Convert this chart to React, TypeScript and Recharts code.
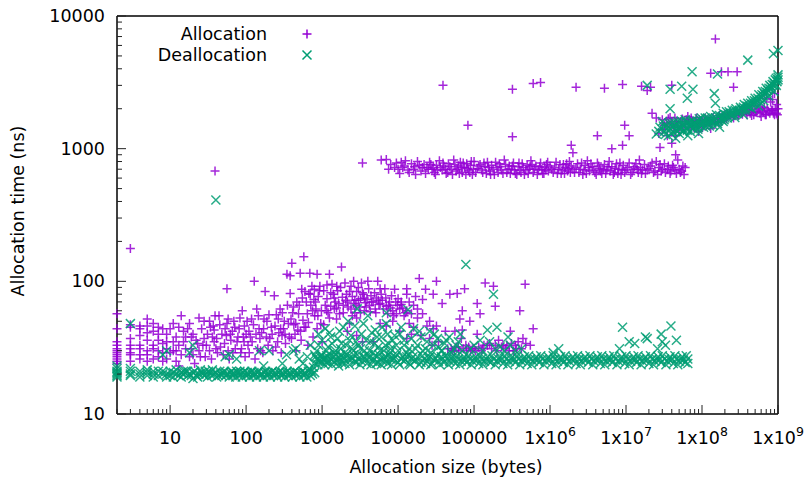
import React from "react";
import { ScatterChart, Scatter, XAxis, YAxis } from "recharts";

// [size in bytes, time in ns]
type Pt = [number, number];

const allocLow: Pt[] = [
  [2, 57], [2, 44], [2, 35], [2, 33], [2, 31], [2, 30], [2, 29], [2, 28], [2, 27], [2, 26], [2, 25], [2, 24],
  [3, 177], [3, 47], [3, 45], [3, 33], [3, 31], [3, 29], [3, 28], [3, 25],
  [4, 44], [4, 46], [4, 31], [4, 28], [4, 26], [4, 33],
  [5, 52], [5, 46], [5, 28], [5, 25], [5, 30], [5, 36],
  [6, 42], [6, 31], [6, 33], [6, 26], [7, 40], [7, 27], [7, 30], [7, 36],
  [8, 44], [8, 25], [8, 29], [8, 34], [9, 26], [9, 31], [9, 40],
  [10, 29], [11, 48], [11, 35], [11, 30], [12, 25], [12, 38], [13, 23], [13, 33], [14, 55], [14, 28],
  [15, 42], [15, 35], [16, 31], [17, 44], [18, 27], [19, 31], [19, 38],
  [20, 28], [21, 24], [22, 36], [24, 53], [24, 30], [26, 44], [27, 33], [28, 37], [29, 27], [31, 40],
  [33, 30], [33, 50], [35, 26], [37, 46], [38, 43], [38, 35], [39, 55], [41, 37], [42, 29], [44, 55], [46, 32], [48, 40],
  [52, 34], [55, 39], [56, 48], [56, 88], [58, 30], [60, 26], [63, 36], [66, 42], [69, 50], [72, 31], [76, 35],
  [81, 44], [85, 29], [89, 60], [92, 38], [94, 35], [97, 27],
  [103, 50], [106, 33], [109, 42], [114, 38], [120, 35], [125, 47], [128, 100], [131, 26], [138, 62], [142, 31],
  [148, 44], [152, 37], [160, 41], [166, 29], [172, 52], [178, 84], [188, 50], [195, 33],
  [205, 37], [215, 45], [225, 30], [235, 78], [240, 46], [250, 56], [260, 35], [270, 41], [280, 62], [290, 29],
  [297, 39], [310, 44], [318, 50], [330, 34], [345, 113], [360, 48], [380, 110], [380, 81], [395, 37], [400, 137],
  [410, 58], [425, 47], [440, 40], [455, 30], [465, 70], [480, 43], [490, 57],
  [515, 115], [530, 36], [540, 87], [560, 51], [575, 153], [595, 84], [610, 45], [640, 57], [650, 33], [670, 81],
  [690, 115], [710, 66], [735, 92], [760, 38], [780, 73], [800, 55], [830, 62], [860, 44], [860, 113], [890, 77],
  [935, 92], [960, 48],
  [1000, 35], [1050, 47], [1100, 66], [1160, 74], [1160, 94], [1200, 58], [1250, 113], [1250, 53], [1300, 82],
  [1400, 80], [1450, 62], [1500, 70], [1550, 63], [1560, 92], [1550, 52], [1600, 85], [1700, 57], [1800, 128],
  [1850, 76], [1900, 66], [2000, 97], [2050, 72], [2150, 70], [2150, 42], [2300, 84], [2300, 48], [2400, 62],
  [2500, 77], [2600, 100], [2600, 68], [2700, 58], [2850, 84], [2850, 53], [2850, 39], [3000, 72], [3100, 64],
  [3200, 74], [3300, 97], [3400, 35], [3500, 80], [3600, 60], [3700, 69], [3900, 73], [4000, 100], [4200, 66],
  [4400, 78], [4700, 70], [4700, 35], [5000, 62], [5200, 75], [5400, 100], [5600, 67], [5800, 88], [5800, 68],
  [5800, 48], [6200, 72], [6700, 88], [7000, 65], [7000, 46], [7300, 57], [7700, 70], [8000, 63], [8500, 60],
  [8500, 50], [9000, 87], [9500, 57], [9800, 66],
  [10500, 62], [10500, 42], [11000, 67], [11000, 70], [12000, 55], [13000, 88], [13000, 60], [13000, 37],
  [13000, 80], [14000, 48], [15000, 40], [15000, 57], [16000, 45], [17000, 77], [18000, 53], [19000, 105],
  [20000, 39], [21000, 57], [21000, 73], [23000, 87], [24000, 46], [26000, 50], [26000, 37], [28000, 33],
  [29000, 80], [29000, 44], [32000, 100], [32000, 46], [34000, 35], [38000, 68], [42000, 42], [48000, 80],
  [50000, 31], [55000, 30], [56000, 42], [60000, 81], [62000, 32], [65000, 52], [68000, 37], [70000, 60],
  [70000, 43], [72000, 31], [75000, 88], [80000, 30], [85000, 32], [88000, 50], [95000, 31],
  [105000, 30], [110000, 68], [110000, 40], [115000, 32], [120000, 57], [130000, 31], [140000, 97], [150000, 33],
  [160000, 34], [180000, 92], [190000, 65], [190000, 33], [210000, 36], [240000, 33], [270000, 33], [300000, 42],
  [310000, 34], [330000, 30], [360000, 31], [380000, 35], [400000, 60], [440000, 37], [470000, 95], [600000, 44],
];

const allocLowFill: Pt[] = [
  [1050, 85], [1150, 60], [1300, 65], [1350, 95], [1450, 75], [1650, 68], [1750, 90], [1900, 58], [2100, 80],
  [2200, 64], [2400, 92], [2500, 55], [2700, 72], [2800, 66], [3000, 90], [3200, 58], [3400, 82], [3600, 75],
  [3800, 64], [4100, 88], [4300, 59], [4500, 70], [4900, 82], [5100, 58], [5500, 72], [6000, 80], [6400, 62],
  [6900, 75], [7500, 66], [8200, 78], [8800, 55], [9300, 70], [10000, 74], [11500, 63], [12500, 58], [14000, 70],
  [16000, 66], [18000, 62],
  [3, 37], [4, 39], [5, 41], [6, 48], [7, 45], [9, 35], [10, 44], [12, 30], [13, 45], [16, 38], [18, 48], [20, 40],
  [23, 34], [25, 27], [28, 50], [30, 33], [34, 45], [36, 38], [40, 31], [45, 47], [50, 28], [53, 44], [58, 52],
  [62, 40], [67, 29], [71, 45], [78, 38], [83, 53], [87, 31], [95, 46], [100, 40], [110, 29], [118, 52], [135, 40],
  [145, 55], [155, 30], [170, 44], [185, 38], [200, 56], [220, 40], [245, 32], [265, 52], [285, 44], [300, 58],
  [325, 40], [350, 66], [370, 38], [390, 52], [420, 64], [450, 48], [500, 66], [520, 42], [550, 75], [580, 45],
  [620, 70], [660, 49], [700, 80], [750, 60], [790, 87], [820, 70], [880, 55], [920, 85], [980, 60],
  [45000, 31], [52000, 30], [58000, 32], [63000, 30], [78000, 33], [90000, 30], [100000, 31], [125000, 30],
  [135000, 33], [170000, 31], [200000, 30], [230000, 32], [260000, 31], [290000, 30], [350000, 33], [420000, 31],
  [480000, 34], [550000, 33],
];

const allocMid: Pt[] = [
  [3400, 780], [6000, 820], [7000, 830], [8000, 760], [9000, 720], [10000, 700], [11000, 790], [12000, 740],
  [13500, 690], [15000, 770], [16500, 730], [18000, 800], [20000, 680], [22000, 760], [24000, 720], [26000, 790],
  [28000, 700], [30000, 660], [32000, 750], [35000, 810], [38000, 690], [40000, 740], [43000, 650], [46000, 770],
  [50000, 700], [54000, 820], [58000, 680], [62000, 740], [66000, 790], [70000, 660], [75000, 720], [80000, 770],
  [85000, 690], [90000, 750], [95000, 640], [100000, 800], [110000, 710], [120000, 760], [130000, 660],
  [140000, 730], [150000, 790], [160000, 680], [170000, 750], [185000, 640], [200000, 720], [215000, 770],
  [230000, 690], [250000, 820], [270000, 660], [290000, 740], [310000, 700], [330000, 780], [350000, 650],
  [380000, 730], [400000, 690], [430000, 770], [460000, 640], [500000, 750], [530000, 700], [560000, 810],
  [600000, 660], [650000, 740], [700000, 690], [750000, 780], [800000, 650], [850000, 720], [900000, 760],
  [950000, 680], [1000000, 740], [1100000, 660], [1200000, 790], [1300000, 700], [1400000, 650], [1500000, 760],
  [1600000, 720], [1700000, 680], [1800000, 800], [1900000, 740], [2100000, 660], [2300000, 770], [2500000, 700],
  [2700000, 640], [2900000, 750], [3100000, 810], [3300000, 680], [3600000, 730], [3900000, 660], [4200000, 780],
  [4500000, 710], [4800000, 650], [5200000, 760], [5600000, 690], [6000000, 800], [6500000, 730], [7000000, 660],
  [7500000, 770], [8000000, 700], [8600000, 640], [9200000, 750], [10000000, 690], [11000000, 780],
  [12000000, 660], [13000000, 730], [14000000, 700], [15000000, 820], [16000000, 650], [17500000, 760],
  [19000000, 690], [21000000, 740], [23000000, 660], [25000000, 800], [27000000, 720], [29000000, 680],
  [32000000, 770], [35000000, 700], [38000000, 650], [41000000, 750], [44000000, 690], [48000000, 820],
  [52000000, 660], [56000000, 740],
  [83000, 1500], [320000, 1230], [1900000, 1060], [2000000, 930], [4200000, 1250], [6500000, 1000],
  [9000000, 1060], [9600000, 1500], [11000000, 1250], [22000000, 1850], [25000000, 1700], [30000000, 1400],
  [35000000, 1250], [40000000, 1100], [28000000, 1020], [45000000, 900], [27000000, 1300], [45000000, 1250],
];

const allocMidFill: Pt[] = [
  [7500, 700], [9500, 780], [10500, 650], [11500, 720], [12500, 810], [14000, 660], [16000, 700], [17000, 640],
  [19000, 750], [21000, 720], [23000, 650], [25000, 700], [27000, 760], [29000, 720], [31000, 640], [33000, 690],
  [36000, 720], [39000, 780], [42000, 700], [45000, 660], [48000, 730], [52000, 640], [56000, 760], [60000, 700],
  [64000, 650], [68000, 720], [72000, 780], [78000, 640], [82000, 710], [88000, 660], [92000, 800], [98000, 700],
  [105000, 660], [115000, 740], [125000, 690], [135000, 780], [145000, 650], [155000, 720], [165000, 640],
  [178000, 700], [192000, 790], [207000, 660], [222000, 730], [240000, 650], [260000, 760], [280000, 700],
  [300000, 650], [320000, 740], [340000, 690], [365000, 640], [390000, 780], [415000, 660], [445000, 720],
  [480000, 690], [515000, 650], [545000, 730], [580000, 760], [620000, 700], [680000, 640], [730000, 730],
  [780000, 700], [830000, 650], [880000, 690], [930000, 790], [1050000, 700], [1150000, 720], [1250000, 650],
  [1350000, 760], [1450000, 690], [1550000, 650], [1650000, 770], [1750000, 710], [1850000, 660], [2000000, 700],
  [2200000, 720], [2400000, 660], [2600000, 780], [2800000, 690], [3000000, 650], [3200000, 720], [3450000, 770],
  [3750000, 690], [4050000, 640], [4350000, 740], [4650000, 680], [5000000, 700], [5400000, 650], [5800000, 730],
  [6200000, 680], [6800000, 640], [7200000, 710], [7800000, 650], [8300000, 780], [8900000, 690], [9600000, 660],
  [10500000, 720], [11500000, 640], [12500000, 700], [13500000, 770], [14500000, 660], [15500000, 720],
  [16500000, 690], [18000000, 650], [20000000, 710], [22000000, 780], [24000000, 680], [26000000, 640],
  [28000000, 760], [30000000, 700], [33000000, 660], [36000000, 740], [39000000, 680], [42000000, 720],
  [46000000, 650], [50000000, 700], [54000000, 680], [58000000, 640], [60000000, 720],
];

const allocHigh: Pt[] = [
  [30000000, 1650], [34000000, 1560], [38000000, 1720], [42000000, 1450], [46000000, 1600], [50000000, 1380],
  [55000000, 1670], [60000000, 1520], [65000000, 1750], [70000000, 1400], [75000000, 1600], [80000000, 1500],
  [85000000, 1700], [90000000, 1350], [95000000, 1550], [100000000, 1620], [105000000, 1480], [110000000, 1700],
  [115000000, 1580], [120000000, 1650], [130000000, 1420], [140000000, 1720], [150000000, 1560], [160000000, 1650],
  [170000000, 1780], [180000000, 1600], [190000000, 1700], [200000000, 1820], [210000000, 1680], [220000000, 1750],
  [240000000, 1850], [260000000, 1700], [280000000, 1900], [300000000, 1780], [320000000, 1950], [340000000, 1820],
  [360000000, 2050], [380000000, 1880], [400000000, 1980], [430000000, 1850], [460000000, 2100], [500000000, 1900],
  [540000000, 2000], [580000000, 1850], [620000000, 1950], [660000000, 2050], [700000000, 1800], [750000000, 1900],
  [800000000, 2250], [850000000, 1950], [900000000, 1800], [950000000, 1850], [1000000000, 2000],
  [700000000, 2400], [900000000, 2600], [600000000, 1750], [450000000, 1780],
  [32000000, 1500], [36000000, 1680], [40000000, 1550], [44000000, 1700], [48000000, 1480], [52000000, 1600],
  [57000000, 1450], [62000000, 1650], [67000000, 1550], [72000000, 1700], [78000000, 1450], [82000000, 1620],
  [88000000, 1550], [92000000, 1650], [98000000, 1480], [108000000, 1580], [125000000, 1600], [135000000, 1550],
  [145000000, 1650], [165000000, 1580], [185000000, 1720], [230000000, 1800], [270000000, 1780], [310000000, 1850],
  [350000000, 1900], [390000000, 1800], [420000000, 1950], [480000000, 1800], [520000000, 1880], [560000000, 2100],
  [640000000, 1900], [680000000, 1800], [720000000, 2000], [780000000, 1850], [820000000, 1950], [870000000, 1850],
  [920000000, 2000], [980000000, 1800], [960000000, 2150], [850000000, 2350],
];

const allocOutliers: Pt[] = [
  [39, 680], [39000, 3000], [320000, 2800], [600000, 3100], [750000, 3150], [2200000, 2900], [5200000, 2850],
  [9000000, 3050], [16000000, 2950], [19000000, 2750], [21000000, 2900], [40000000, 3000],
  [150000000, 6700], [130000000, 3700], [180000000, 3800], [220000000, 3800], [290000000, 3800], [260000000, 2900],
];

const deallocLow: Pt[] = [
  [2, 19], [2, 20], [2, 21], [2, 22], [2, 19.5], [2, 20.5], [2, 23],
  [3, 20], [3, 21], [3, 19.5], [4, 20], [4, 21], [5, 19.5], [5, 20.5], [6, 20], [6, 21], [7, 19.5], [8, 20],
  [8, 21], [9, 20], [10, 19.5], [11, 20.5], [12, 20], [13, 19.5], [14, 20.5], [15, 20], [16, 21], [17, 19.5],
  [18, 20], [20, 20.5], [20, 18.5], [22, 19.5], [24, 20], [26, 20.5], [28, 19.5], [30, 20], [32, 21], [35, 19.5],
  [38, 20], [40, 20.5], [43, 19.5], [46, 20], [50, 20.5], [54, 19.5], [58, 20], [62, 20.5], [66, 19.5], [70, 20],
  [75, 21], [80, 19.5], [86, 20], [92, 20.5], [100, 19.5], [107, 20], [115, 20.5], [123, 19.5], [132, 20],
  [142, 20.5], [152, 19.5], [163, 20], [175, 20.5], [188, 19.5], [200, 20], [215, 20.5], [230, 19.5], [250, 20],
  [270, 20.5], [290, 19.5], [310, 20], [335, 20.5], [360, 19.5], [390, 20], [420, 20.5], [450, 19.5], [490, 20],
  [530, 20.5], [570, 19.5], [610, 20], [660, 21], [700, 19.5], [750, 20], [800, 20.5],
  [3, 22], [4, 19], [5, 21.5], [6, 19], [7, 21], [9, 19], [10, 21], [11, 19], [12, 21.5], [14, 19], [15, 21],
  [17, 21], [19, 19.5], [21, 21], [23, 19], [25, 21.5], [27, 20], [29, 21], [31, 19], [34, 20.5], [36, 21.5],
  [41, 19], [45, 21], [48, 19.5], [52, 21], [56, 20], [60, 19], [64, 21], [68, 20.5], [73, 19], [78, 20.5],
  [83, 21], [89, 19], [96, 21], [104, 20.5], [111, 19], [119, 21], [127, 20.5], [137, 19], [147, 21], [157, 20],
  [169, 19], [181, 21], [194, 20.5], [208, 19], [222, 21], [240, 20.5], [260, 19], [280, 21], [300, 20.5],
  [322, 19], [347, 21], [375, 20.5], [405, 19], [435, 21], [470, 20.5], [510, 19], [550, 21], [590, 20.5],
  [630, 19], [680, 22], [720, 21], [770, 22.5],
  [3, 48], [8, 28], [9, 30], [18, 29], [20, 33], [53, 27], [60, 28], [75, 26], [150, 30], [170, 23], [200, 30],
  [300, 24], [340, 28], [420, 30], [450, 31], [500, 26], [560, 24], [640, 27], [700, 33], [800, 28], [900, 40],
  [850, 30], [40, 410],
];

const deallocMid: Pt[] = [
  [800, 24], [850, 26], [900, 25], [950, 27], [1000, 24.5], [1050, 26], [1100, 25], [1150, 27.5], [1200, 24],
  [1300, 26], [1400, 25], [1500, 28], [1600, 24.5], [1700, 26.5], [1800, 25], [1900, 27], [2000, 24], [2200, 26],
  [2400, 25.5], [2600, 28], [2800, 24.5], [3000, 26], [3300, 25], [3600, 27], [3900, 24], [4200, 26.5], [4600, 25],
  [5000, 27.5], [5400, 24.5], [5800, 26], [6300, 25], [6800, 27], [7300, 24], [7900, 26], [8500, 25.5], [9200, 27],
  [10000, 24.5], [11000, 26], [12000, 25], [13000, 27], [14000, 24], [15000, 26], [16500, 25], [18000, 27],
  [20000, 24.5], [22000, 26], [24000, 25], [26000, 27], [28000, 24], [31000, 26], [34000, 25], [37000, 27],
  [40000, 24.5], [44000, 26], [48000, 25], [52000, 27], [57000, 24], [62000, 26], [68000, 25], [74000, 27],
  [80000, 24.5], [88000, 26], [96000, 25], [105000, 27], [115000, 24], [125000, 26], [137000, 25], [150000, 27],
  [165000, 24.5], [180000, 26], [200000, 25], [220000, 27], [240000, 24], [265000, 26], [290000, 25], [320000, 27],
  [350000, 24.5], [385000, 26], [420000, 25], [460000, 27], [500000, 24], [550000, 26], [600000, 25], [660000, 27],
  [720000, 24.5], [790000, 26], [870000, 25], [950000, 27], [1050000, 24], [1150000, 26], [1250000, 25],
  [1380000, 27], [1500000, 24.5], [1650000, 26], [1800000, 25], [2000000, 27], [2200000, 24], [2400000, 26],
  [2600000, 25], [2900000, 27], [3200000, 24.5], [3500000, 26], [3800000, 25], [4200000, 27], [4600000, 24],
  [5000000, 26], [5500000, 25], [6000000, 27], [6600000, 24.5], [7200000, 26], [8000000, 25], [8800000, 27],
  [9600000, 24], [10500000, 26], [11500000, 25], [12600000, 27], [13800000, 24.5], [15000000, 26], [16500000, 25],
  [18000000, 27], [20000000, 24], [22000000, 26], [24000000, 25], [26500000, 27], [29000000, 24.5], [32000000, 26],
  [35000000, 25], [38000000, 27], [42000000, 24], [46000000, 26], [50000000, 25], [55000000, 27], [60000000, 24.5],
  [65000000, 26],
];

const deallocMidFill: Pt[] = [
  [820, 27], [880, 23.5], [930, 25.5], [980, 28], [1020, 26], [1080, 23.5], [1130, 26.5], [1180, 25], [1250, 28],
  [1350, 23.5], [1450, 27], [1550, 25.5], [1650, 23], [1750, 28], [1850, 24], [1950, 26], [2100, 28], [2300, 23.5],
  [2500, 26.5], [2700, 25], [2900, 28], [3150, 23.5], [3450, 27], [3750, 25.5], [4050, 28], [4400, 23.5],
  [4800, 26], [5200, 24], [5600, 28], [6000, 23.5], [6500, 26.5], [7000, 25], [7600, 28], [8200, 23.5], [8800, 26],
  [9600, 28], [10500, 23.5], [11500, 27], [12500, 25.5], [13500, 28], [14500, 23.5], [15700, 27], [17200, 25.5],
  [19000, 23.5], [21000, 27.5], [23000, 24], [25000, 26.5], [27000, 23.5], [29500, 25.5], [32500, 27.5],
  [35500, 23.5], [38500, 26], [42000, 27.5], [46000, 23.5], [50000, 26.5], [54000, 25], [60000, 27.5],
  [65000, 23.5], [71000, 26], [77000, 25.5], [84000, 27.5], [92000, 23.5], [100000, 26], [110000, 25.5],
  [120000, 27.5], [131000, 23.5], [143000, 26], [157000, 25], [172000, 27.5], [190000, 23.5], [210000, 26],
  [230000, 25.5], [252000, 27.5], [277000, 23.5], [305000, 26], [335000, 25.5], [367000, 27.5], [400000, 23.5],
  [440000, 26], [480000, 25.5], [525000, 27.5], [575000, 23.5], [630000, 26], [690000, 25.5], [755000, 27.5],
  [830000, 23.5], [910000, 26], [1000000, 25.5], [1100000, 27.5], [1200000, 23.5], [1320000, 26], [1450000, 25.5],
  [1580000, 27.5], [1720000, 23.5], [1900000, 26], [2100000, 25.5], [2300000, 27.5], [2500000, 23.5],
  [2750000, 26], [3000000, 25.5], [3350000, 27.5], [3650000, 23.5], [4000000, 26], [4400000, 25.5],
  [4800000, 27.5], [5250000, 23.5], [5750000, 26], [6300000, 25.5], [6900000, 27.5], [7600000, 23.5],
  [8400000, 26], [9200000, 25.5], [10000000, 27.5], [11000000, 23.5], [12000000, 26], [13200000, 25.5],
  [14400000, 27.5], [15800000, 23.5], [17200000, 26], [19000000, 25.5], [21000000, 27.5], [23000000, 23.5],
  [25000000, 26], [27500000, 25.5], [30000000, 27.5], [33500000, 23.5], [36500000, 26], [40000000, 25.5],
  [44000000, 27.5], [48000000, 23.5], [52000000, 26], [57000000, 25.5], [62000000, 27.5], [65000000, 24],
];

const deallocScatter: Pt[] = [
  [1100, 44], [1200, 32], [1300, 38], [1500, 30], [1700, 42], [1800, 34], [2000, 29], [2200, 50], [2300, 36],
  [2500, 31], [2700, 46], [2900, 62], [3000, 33], [3300, 40], [3600, 30], [4000, 55], [4300, 35], [4700, 29],
  [5000, 43], [5500, 32], [6000, 38], [6500, 30], [7000, 58], [7000, 48], [7500, 34], [8000, 31], [9000, 39],
  [10000, 30], [11000, 45], [12000, 33], [13000, 29], [13500, 61], [15000, 37], [17000, 31], [19000, 42],
  [21000, 30], [24000, 35], [27000, 29], [30000, 40], [34000, 32], [38000, 30], [43000, 36], [50000, 29],
  [58000, 33], [66000, 40], [78000, 134], [90000, 31], [120000, 36], [150000, 43], [180000, 80], [200000, 45],
  [220000, 32], [280000, 38], [350000, 30], [1100000, 29], [1300000, 31],
  [900, 33], [1000, 36], [1150, 30], [1250, 41], [1350, 34], [1450, 29], [1600, 37], [1750, 31], [1900, 45],
  [2100, 33], [2400, 39], [2600, 30], [2800, 35], [3200, 31], [3500, 48], [3800, 36], [4200, 30], [4500, 41],
  [4900, 34], [5300, 38], [5800, 30], [6200, 45], [6800, 33], [7300, 40], [7800, 29], [8500, 36], [9500, 33],
  [10500, 40], [12000, 36], [14000, 31], [16000, 44], [18000, 33], [20000, 38], [23000, 31], [26000, 42],
  [29000, 33], [33000, 37], [37000, 30], [41000, 34], [47000, 38], [55000, 31], [62000, 35], [70000, 30],
  [100000, 33], [130000, 30], [160000, 35], [190000, 31], [250000, 30], [300000, 33], [420000, 31],
  [8200000, 31], [9000000, 45], [11000000, 35], [13000000, 34], [18000000, 38], [19000000, 37], [26000000, 31],
  [29000000, 40], [30000000, 35], [33000000, 33], [39000000, 46], [46000000, 36],
];

const deallocHigh: Pt[] = [
  [25000000, 1290], [28000000, 1450], [30000000, 1600], [32000000, 1350], [34000000, 1500], [36000000, 1250],
  [38000000, 1420], [40000000, 1550], [42000000, 1330], [44000000, 1480], [46000000, 1380], [48000000, 1600],
  [50000000, 1300], [52000000, 1450], [55000000, 1520], [58000000, 1380], [60000000, 1650], [63000000, 1420],
  [66000000, 1560], [70000000, 1350], [73000000, 1500], [76000000, 1620], [80000000, 1450], [84000000, 1550],
  [88000000, 1400], [92000000, 1680], [96000000, 1500], [100000000, 1600], [105000000, 1450], [110000000, 1700],
  [115000000, 1550], [120000000, 1620], [125000000, 1480], [130000000, 1750], [140000000, 1600], [150000000, 1700],
  [160000000, 1550], [170000000, 1780], [180000000, 1650], [190000000, 1850], [200000000, 1700], [210000000, 1900],
  [220000000, 1750], [235000000, 1820], [250000000, 1950], [265000000, 1800], [280000000, 2000], [300000000, 1880],
  [320000000, 2050], [340000000, 1950], [360000000, 2150], [380000000, 2000], [400000000, 2200], [420000000, 2100],
  [450000000, 2300], [480000000, 2200], [500000000, 2400], [530000000, 2300], [560000000, 2550], [600000000, 2450],
  [630000000, 2700], [660000000, 2600], [700000000, 2850], [740000000, 2750], [780000000, 3000], [820000000, 2900],
  [860000000, 3200], [900000000, 3100], [950000000, 3400], [1000000000, 3300], [1000000000, 3600],
  [950000000, 3000], [880000000, 2700], [750000000, 2500], [650000000, 2300], [550000000, 2100], [450000000, 2000],
  [350000000, 1800], [270000000, 1720], [190000000, 1600], [140000000, 1500], [90000000, 1300], [65000000, 1250],
  [45000000, 1200], [170000000, 1450], [600000000, 2200],
  [27000000, 1350], [31000000, 1480], [33000000, 1280], [35000000, 1420], [37000000, 1550], [39000000, 1300],
  [41000000, 1450], [43000000, 1580], [47000000, 1350], [49000000, 1500], [51000000, 1400], [53000000, 1620],
  [56000000, 1350], [59000000, 1500], [62000000, 1580], [64000000, 1380], [68000000, 1480], [72000000, 1600],
  [75000000, 1420], [78000000, 1550], [82000000, 1500], [86000000, 1620], [90000000, 1450], [94000000, 1550],
  [98000000, 1700], [102000000, 1520], [108000000, 1600], [112000000, 1480], [118000000, 1700], [122000000, 1550],
  [128000000, 1650], [135000000, 1580], [145000000, 1650], [155000000, 1800], [165000000, 1620], [175000000, 1700],
  [185000000, 1750], [195000000, 1650], [205000000, 1800], [215000000, 1700], [228000000, 1900], [242000000, 1780],
  [258000000, 1850], [272000000, 1950], [290000000, 1850], [310000000, 1950], [330000000, 2000], [350000000, 2050],
  [370000000, 1950], [390000000, 2100], [410000000, 2050], [435000000, 2200], [465000000, 2150], [490000000, 2300],
  [515000000, 2250], [545000000, 2400], [580000000, 2350], [615000000, 2550], [645000000, 2500], [680000000, 2700],
  [720000000, 2650], [760000000, 2850], [800000000, 2800], [840000000, 3050], [880000000, 3000], [920000000, 3300],
  [970000000, 3200], [1000000000, 3450],
];

const deallocOutliers: Pt[] = [
  [19000000, 3000], [38000000, 2800], [54000000, 2950], [74000000, 3800], [76000000, 2800], [64000000, 2400],
  [38000000, 2000], [145000000, 2600], [150000000, 2200], [160000000, 3650], [400000000, 4650],
  [870000000, 5200], [1000000000, 5500],
];

const xMajor = [10, 100, 1000, 10000, 100000, 1e6, 1e7, 1e8, 1e9];
const xMajorLabels = ["10", "100", "1000", "10000", "100000", "1x10^6", "1x10^7", "1x10^8", "1x10^9"];
const yMajor = [10, 100, 1000, 10000];

const X_DOMAIN: [number, number] = [2, 1e9];
const Y_DOMAIN: [number, number] = [10, 10000];

const toData = (pts: Pt[]) => pts.map(([size, ns]) => ({ size, ns }));
const allocData = toData([
  ...allocLow, ...allocLowFill, ...allocMid, ...allocMidFill, ...allocHigh, ...allocOutliers,
]);
const deallocData = toData([
  ...deallocLow, ...deallocMid, ...deallocMidFill, ...deallocScatter, ...deallocHigh, ...deallocOutliers,
]);

// tick marks at 1..9 times each decade, kept inside the domain
function logTicks(lo: number, hi: number) {
  const out: number[] = [];
  for (let d = 1; d <= hi; d *= 10) {
    for (let m = 1; m <= 9; m++) {
      const v = Math.round(d * m);
      if (v >= lo && v <= hi) out.push(v);
    }
  }
  return out;
}
const xTicks = logTicks(X_DOMAIN[0], X_DOMAIN[1]);
const yTicks = logTicks(Y_DOMAIN[0], Y_DOMAIN[1]);

const W = 809;
const H = 477;
const LEFT = 117;
const RIGHT = 778;
const TOP = 16;
const BOTTOM = 414;
const FONT = "DejaVu Sans";
const FS = 17.5;
const PURPLE = "#9400d3";
const GREEN = "#009e73";

const isMajor = (v: number) => Math.abs(Math.log10(v) - Math.round(Math.log10(v))) < 1e-9;

function XTick(props: any) {
  const { x, payload } = props;
  const v = payload.value;
  const major = isMajor(v);
  const idx = xMajor.indexOf(v);
  const label = idx >= 0 ? xMajorLabels[idx] : "";
  const [base, exp] = label.split("^");
  return (
    <g>
      <line x1={x} x2={x} y1={BOTTOM} y2={BOTTOM - (major ? 9 : 5)} stroke="#222" strokeWidth={1} />
      {major && (
        <text x={x} y={BOTTOM + 30} textAnchor="middle" fontFamily={FONT} fontSize={FS} fill="#000">
          <tspan>{base}</tspan>
          {exp && (
            <tspan dy={-8} fontSize={12.5}>
              {exp}
            </tspan>
          )}
        </text>
      )}
    </g>
  );
}

function XTickTop(props: any) {
  const { x, payload } = props;
  const major = isMajor(payload.value);
  return <line x1={x} x2={x} y1={TOP} y2={TOP + (major ? 9 : 5)} stroke="#222" strokeWidth={1} />;
}

function YTick(props: any) {
  const { y, payload } = props;
  const v = payload.value;
  const major = isMajor(v);
  return (
    <g>
      <line x1={LEFT} x2={LEFT + (major ? 9 : 5)} y1={y} y2={y} stroke="#222" strokeWidth={1} />
      {major && yMajor.includes(v) && (
        <text x={105} y={y + 6} textAnchor="end" fontFamily={FONT} fontSize={FS} fill="#000">
          {String(v)}
        </text>
      )}
    </g>
  );
}

function YTickRight(props: any) {
  const { y, payload } = props;
  const major = isMajor(payload.value);
  return <line x1={RIGHT} x2={RIGHT - (major ? 9 : 5)} y1={y} y2={y} stroke="#222" strokeWidth={1} />;
}

const plus = (props: any) => {
  const { cx, cy } = props;
  if (cx == null || cy == null) return <g />;
  return (
    <path
      d={`M${cx - 4.5},${cy}h9M${cx},${cy - 4.5}v9`}
      stroke={PURPLE}
      strokeWidth={1.5}
      strokeOpacity={0.85}
      fill="none"
    />
  );
};

const cross = (props: any) => {
  const { cx, cy } = props;
  if (cx == null || cy == null) return <g />;
  return (
    <path
      d={`M${cx - 4.5},${cy - 4.5}l9,9M${cx - 4.5},${cy + 4.5}l9,-9`}
      stroke={GREEN}
      strokeWidth={1.5}
      strokeOpacity={0.85}
      fill="none"
    />
  );
};

const axisLine = { stroke: "#000", strokeWidth: 1.5 };

export default function App() {
  return (
    <div style={{ position: "absolute", left: 0, top: 0, width: W, height: H, background: "#fff" }}>
      <ScatterChart width={W} height={H} margin={{ top: 0, right: 0, bottom: 0, left: 0 }}>
        <XAxis
          xAxisId="x"
          dataKey="size"
          type="number"
          scale="log"
          domain={X_DOMAIN}
          ticks={xTicks}
          interval={0}
          height={H - BOTTOM}
          axisLine={axisLine}
          tickLine={false}
          tick={<XTick />}
        />
        <XAxis
          xAxisId="top"
          orientation="top"
          type="number"
          scale="log"
          domain={X_DOMAIN}
          ticks={xTicks}
          interval={0}
          height={TOP}
          axisLine={axisLine}
          tickLine={false}
          tick={<XTickTop />}
        />
        <YAxis
          yAxisId="y"
          dataKey="ns"
          type="number"
          scale="log"
          domain={Y_DOMAIN}
          ticks={yTicks}
          interval={0}
          width={LEFT}
          axisLine={axisLine}
          tickLine={false}
          tick={<YTick />}
        />
        <YAxis
          yAxisId="right"
          orientation="right"
          type="number"
          scale="log"
          domain={Y_DOMAIN}
          ticks={yTicks}
          interval={0}
          width={W - RIGHT}
          axisLine={axisLine}
          tickLine={false}
          tick={<YTickRight />}
        />
        <Scatter
          name="Allocation"
          data={allocData}
          xAxisId="x"
          yAxisId="y"
          shape={plus}
          isAnimationActive={false}
        />
        <Scatter
          name="Deallocation"
          data={deallocData}
          xAxisId="x"
          yAxisId="y"
          shape={cross}
          isAnimationActive={false}
        />
      </ScatterChart>
      <svg
        width={W}
        height={H}
        style={{ position: "absolute", left: 0, top: 0, pointerEvents: "none" }}
        fontFamily={FONT}
        fontSize={FS}
      >
        <text x={267} y={40} textAnchor="end" fill="#000">Allocation</text>
        <path d="M302.5,34h9M307,29.5v9" stroke={PURPLE} strokeWidth={1.5} fill="none" />
        <text x={267} y={61} textAnchor="end" fill="#000">Deallocation</text>
        <path d="M302.5,50.5l9,9M302.5,59.5l9,-9" stroke={GREEN} strokeWidth={1.5} fill="none" />
        <text x={446} y={473} textAnchor="middle" fill="#000">Allocation size (bytes)</text>
        <text x={24} y={211} textAnchor="middle" fill="#000" transform="rotate(-90 24 211)">
          Allocation time (ns)
        </text>
      </svg>
    </div>
  );
}
